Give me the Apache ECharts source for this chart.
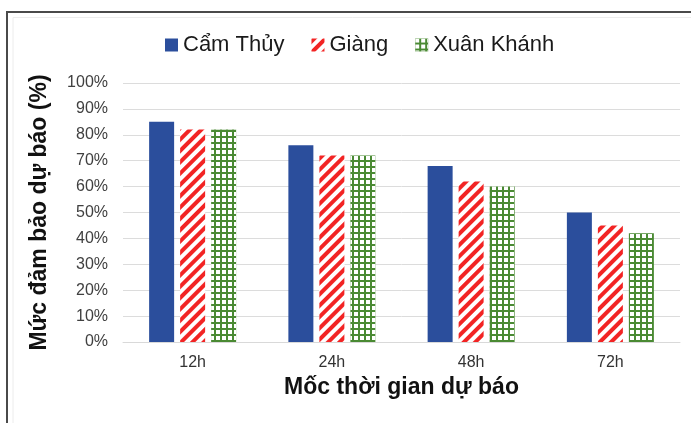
<!DOCTYPE html>
<html>
<head>
<meta charset="utf-8">
<script src="https://cdn.jsdelivr.net/npm/echarts@6/dist/echarts.min.js"></script>
<style>
  html, body { margin: 0; padding: 0; background: #ffffff; }
  #chart { width: 691px; height: 423px; }
</style>
</head>
<body>
<div id="chart"></div>
<script>
// Forecast lead times (x-axis categories)
const categories = ['12h', '24h', '48h', '72h'];

// Forecast reliability (%) per station
const camThuy = [85, 76, 68, 50];
const giang = [82, 72, 62, 45];
const xuanKhanh = [82, 72, 60, 42];

const seriesNames = ['Cẩm Thủy', 'Giàng', 'Xuân Khánh'];

const FONT = '"Liberation Sans", Arial, sans-serif';

const chart = echarts.init(document.getElementById('chart'), null, { renderer: 'canvas' });

chart.setOption({
  backgroundColor: '#ffffff',
  animation: false,
  aria: { enabled: false },
  graphic: [
    {
      type: 'rect',
      shape: { x: 7, y: 12, width: 720, height: 450 },
      style: { fill: 'none', stroke: '#4a4a4a', lineWidth: 2 },
      silent: true
    },
    {
      type: 'rect',
      shape: { x: 13, y: 17.5, width: 720, height: 450 },
      style: { fill: 'none', stroke: '#ececec', lineWidth: 1 },
      silent: true
    }
  ],
  legend: {
    left: 160,
    top: 29,
    icon: 'rect',
    itemWidth: 13,
    itemHeight: 13,
    itemGap: 27,
    textStyle: { fontFamily: FONT, fontSize: 22, color: '#1a1a1a' },
    data: seriesNames
  },
  grid: { left: 123, right: 11, top: 83, bottom: 81 },
  xAxis: {
    type: 'category',
    data: categories,
    name: 'Mốc thời gian dự báo',
    nameLocation: 'middle',
    nameGap: 34,
    nameTextStyle: { fontFamily: FONT, fontSize: 23, fontWeight: 'bold', color: '#111111' },
    axisLine: { lineStyle: { color: '#d9d9d9', width: 1 } },
    axisTick: { show: false },
    axisLabel: { fontFamily: FONT, fontSize: 16, color: '#333333', margin: 13 }
  },
  yAxis: {
    type: 'value',
    min: 0,
    max: 100,
    interval: 10,
    name: 'Mức đảm bảo dự báo (%)',
    nameLocation: 'middle',
    nameGap: 72,
    nameTextStyle: { fontFamily: FONT, fontSize: 23, fontWeight: 'bold', color: '#111111' },
    axisLine: { show: false },
    axisTick: { show: false },
    axisLabel: { fontFamily: FONT, fontSize: 16, color: '#404040', margin: 15, formatter: '{value}%' },
    splitLine: { lineStyle: { color: '#dcdcdc', width: 1 } }
  },
  series: [
    {
      name: seriesNames[0],
      type: 'bar',
      data: camThuy,
      barWidth: 25,
      barGap: '24%',
      itemStyle: { color: '#2b4e9c' }
    },
    {
      name: seriesNames[1],
      type: 'bar',
      data: giang,
      barWidth: 25,
      barGap: '24%',
      itemStyle: {
        color: '#ffffff',
        decal: {
          symbol: 'rect',
          symbolSize: 1,
          color: '#f22424',
          backgroundColor: '#ffffff',
          dashArrayX: [1, 0],
          dashArrayY: [3.5, 3.5],
          rotation: -Math.PI / 4
        }
      }
    },
    {
      name: seriesNames[2],
      type: 'bar',
      data: xuanKhanh,
      barWidth: 25,
      barGap: '24%',
      itemStyle: {
        color: '#4a8a33',
        decal: {
          symbol: 'rect',
          symbolSize: 1,
          color: '#ffffff',
          dashArrayX: [3.4, 1.3],
          dashArrayY: [3.4, 1.3],
          rotation: 0
        }
      }
    }
  ]
});
</script>
</body>
</html>
